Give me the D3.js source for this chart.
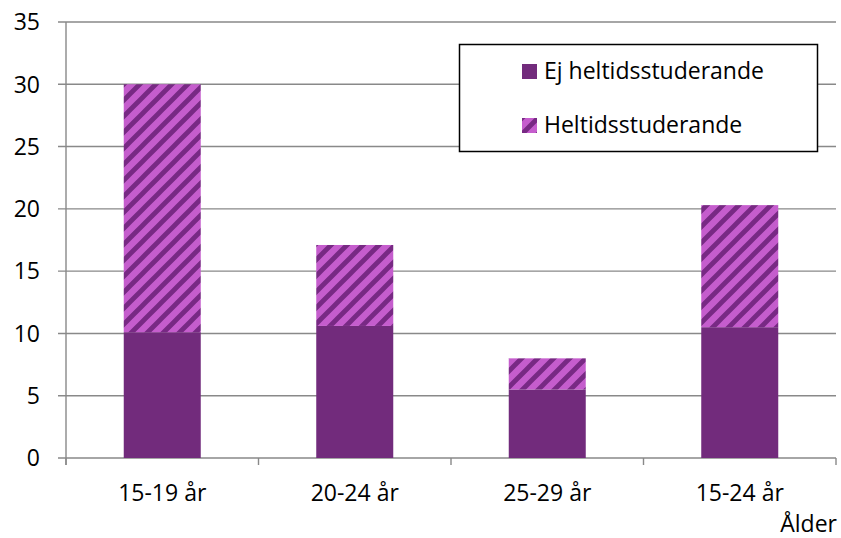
<!DOCTYPE html>
<html><head><meta charset="utf-8">
<script src="https://cdn.jsdelivr.net/npm/d3@7"></script>
<style>body{margin:0;background:#fff}svg{display:block}text{font-family:"Open Sans",sans-serif;fill:#000}</style>
</head><body><svg id="c" width="841" height="538"></svg>
<script>
const categories = ["15-19 år","20-24 år","25-29 år","15-24 år"];
const ejHeltid = [10.1, 10.6, 5.5, 10.5];
const heltid = [19.9, 6.5, 2.5, 9.8];
const seriesNames = ["Ej heltidsstuderande","Heltidsstuderande"];
const yTicks = [0,5,10,15,20,25,30,35];
const xTitle = "Ålder";

const svg = d3.select("#c");
const m = {l:66, r:836, t:22, b:458};
const x = d3.scaleBand().domain(categories).range([m.l, m.r]).paddingInner(0.6).paddingOuter(0.3);
const xb = d3.scaleBand().domain(categories).range([m.l, m.r]);
const y = d3.scaleLinear().domain([0,35]).range([m.b, m.t]);

const defs = svg.append("defs");
const pat = defs.append("pattern").attr("id","stripes").attr("patternUnits","userSpaceOnUse")
  .attr("width",16).attr("height",16);
pat.append("rect").attr("width",16).attr("height",16).attr("fill","#c55dcd");
pat.append("path").attr("d","M-4,4 L4,-4 M0,16 L16,0 M12,20 L20,12")
  .attr("stroke","#782984").attr("stroke-width",4.8);

// gridlines
const grid = svg.append("g");
grid.selectAll("line").data(yTicks).join("line")
  .attr("x1", m.l - 8).attr("x2", m.r)
  .attr("y1", d => y(d)).attr("y2", d => y(d))
  .attr("stroke","#898989").attr("stroke-width",1.4);

// y axis line
svg.append("line").attr("x1",m.l).attr("x2",m.l).attr("y1",m.t).attr("y2",m.b+7)
  .attr("stroke","#898989").attr("stroke-width",1.4);
// x tick marks
const xTickPos = categories.map(c => xb(c)).concat([m.r]);
svg.append("g").selectAll("line").data(xTickPos).join("line")
  .attr("x1",d=>d).attr("x2",d=>d).attr("y1",m.b).attr("y2",m.b+7)
  .attr("stroke","#898989").attr("stroke-width",1.4);

// y labels
svg.append("g").selectAll("text").data(yTicks).join("text")
  .attr("x", 40).attr("y", d => y(d)).attr("dy","0.36em")
  .attr("text-anchor","end").style("font-size","23px").text(d => d);

// bars
const stackData = categories.map((c,i)=>({cat:c, a:ejHeltid[i], b:heltid[i]}));
const g = svg.append("g");
g.selectAll("rect.a").data(stackData).join("rect").attr("class","a")
  .attr("x", d => x(d.cat)).attr("width", x.bandwidth())
  .attr("y", d => y(d.a)).attr("height", d => y(0) - y(d.a))
  .attr("fill","#722b7c");
g.selectAll("rect.b").data(stackData).join("rect").attr("class","b")
  .attr("x", d => x(d.cat)).attr("width", x.bandwidth())
  .attr("y", d => y(d.a + d.b)).attr("height", d => y(d.a) - y(d.a + d.b))
  .attr("fill","url(#stripes)");

// x labels
svg.append("g").selectAll("text").data(categories).join("text")
  .attr("x", d => xb(d) + xb.bandwidth()/2).attr("y", 501)
  .attr("text-anchor","middle").style("font-size","23px").text(d => d);

svg.append("text").attr("x", 837).attr("y", 532).attr("text-anchor","end")
  .style("font-size","23px").text(xTitle);

// legend
const lg = svg.append("g");
lg.append("rect").attr("x",459.5).attr("y",44.5).attr("width",358).attr("height",107)
  .attr("fill","#fff").attr("stroke","#000").attr("stroke-width",1.5);
const fills = ["#722b7c","url(#stripes)"];
const ly = [64, 118];
seriesNames.forEach((n,i)=>{
  lg.append("rect").attr("x",522).attr("y",ly[i]).attr("width",15).attr("height",15).attr("fill",fills[i]);
  lg.append("text").attr("x",544).attr("y",ly[i]+15).style("font-size","23px").text(n);
});
</script></body></html>
